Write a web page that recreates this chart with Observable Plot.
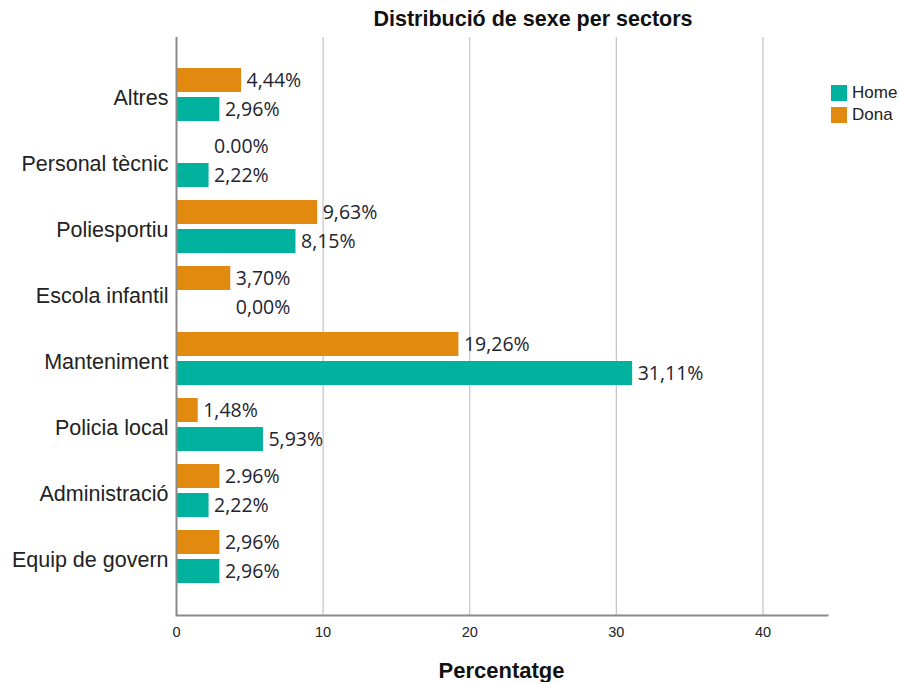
<!DOCTYPE html>
<html>
<head>
<meta charset="utf-8">
<script src="https://cdn.jsdelivr.net/npm/d3@7"></script>
<script src="https://cdn.jsdelivr.net/npm/@observablehq/plot@0.6"></script>
<style>
  html, body { margin: 0; padding: 0; background: #fff; }
  #wrap { position: relative; width: 900px; height: 682px; overflow: hidden; }
  #title { position: absolute; left: 233px; width: 600px; top: 7px; text-align: center;
           font: bold 21.5px "Liberation Sans", Arial, sans-serif; color: #111; }
  #xlabel { position: absolute; left: 176px; width: 651px; top: 658px; text-align: center;
           font: bold 22px "Liberation Sans", Arial, sans-serif; color: #111; }
  #legend { position: absolute; left: 831px; top: 82px; font: 17px "Liberation Sans", Arial, sans-serif; color: #222; }
  .li { display: flex; align-items: center; height: 22px; }
  .sw { width: 16px; height: 16px; margin-right: 5px; }
</style>
</head>
<body>
<div id="wrap">
  <div id="chart"></div>
  <div id="title">Distribució de sexe per sectors</div>
  <div id="xlabel">Percentatge</div>
  <div id="legend"></div>
</div>
<script>
const categories = ["Altres", "Personal tècnic", "Poliesportiu", "Escola infantil", "Manteniment", "Policia local", "Administració", "Equip de govern"];
const donaValues = [4.44, 0.00, 9.63, 3.70, 19.26, 1.48, 2.96, 2.96];
const homeValues = [2.96, 2.22, 8.15, 0.00, 31.11, 5.93, 2.22, 2.96];
const donaLabels = ["4,44%", "0.00%", "9,63%", "3,70%", "19,26%", "1,48%", "2.96%", "2,96%"];
const homeLabels = ["2,96%", "2,22%", "8,15%", "0,00%", "31,11%", "5,93%", "2,22%", "2,96%"];
const xTicks = [0, 10, 20, 30, 40];
const seriesNames = ["Home", "Dona"];

const TEAL = "#00b29e";
const ORANGE = "#e2890f";

const donaRows = categories.map((c, i) => ({cat: c, value: donaValues[i], label: donaLabels[i],
  labelX: donaValues[i] === 0 ? homeValues[i] : donaValues[i]}));
const homeRows = categories.map((c, i) => ({cat: c, value: homeValues[i], label: homeLabels[i],
  labelX: homeValues[i] === 0 ? donaValues[i] : homeValues[i]}));

const chart = Plot.plot({
  width: 900, height: 682,
  marginTop: 37, marginBottom: 67, marginLeft: 176, marginRight: 73,
  style: {fontFamily: "'Liberation Sans', Arial, sans-serif", background: "transparent", color: "#222"},
  x: {domain: [0, 44.4]},
  y: {domain: categories, insetTop: 23, insetBottom: 24, paddingInner: 0.19, paddingOuter: 0.095},
  marks: [
    Plot.ruleX(xTicks.filter(d => d > 0), {stroke: "#c8c8c8", strokeWidth: 1.3}),
    Plot.barX(donaRows, {x: "value", y: "cat", fill: ORANGE, insetBottom: 29}),
    Plot.barX(homeRows, {x: "value", y: "cat", fill: TEAL, insetTop: 29}),
    Plot.frame({anchor: "bottom", stroke: "#8a8a8a", strokeWidth: 2}),
    Plot.ruleX([0], {stroke: "#8a8a8a", strokeWidth: 2}),
    Plot.axisX({ticks: xTicks, tickSize: 0, tickPadding: 11, fontSize: 14.5, label: null}),
    Plot.axisY({tickSize: 0, tickPadding: 8, fontSize: 21.5, dy: 3, label: null}),
    Plot.text(donaRows, {x: "labelX", y: "cat", text: "label", dy: -14.5, dx: 5, textAnchor: "start",
      fontSize: 19.5, fontFamily: "'Open Sans', sans-serif", fill: "#1e2430"}),
    Plot.text(homeRows, {x: "labelX", y: "cat", text: "label", dy: 14.5, dx: 5, textAnchor: "start",
      fontSize: 19.5, fontFamily: "'Open Sans', sans-serif", fill: "#1e2430"})
  ]
});
document.getElementById("chart").appendChild(chart);

const legendColors = {Home: TEAL, Dona: ORANGE};
const legend = document.getElementById("legend");
seriesNames.forEach(n => {
  const row = document.createElement("div");
  row.className = "li";
  row.innerHTML = `<div class="sw" style="background:${legendColors[n]}"></div><span>${n}</span>`;
  legend.appendChild(row);
});
</script>
</body>
</html>
